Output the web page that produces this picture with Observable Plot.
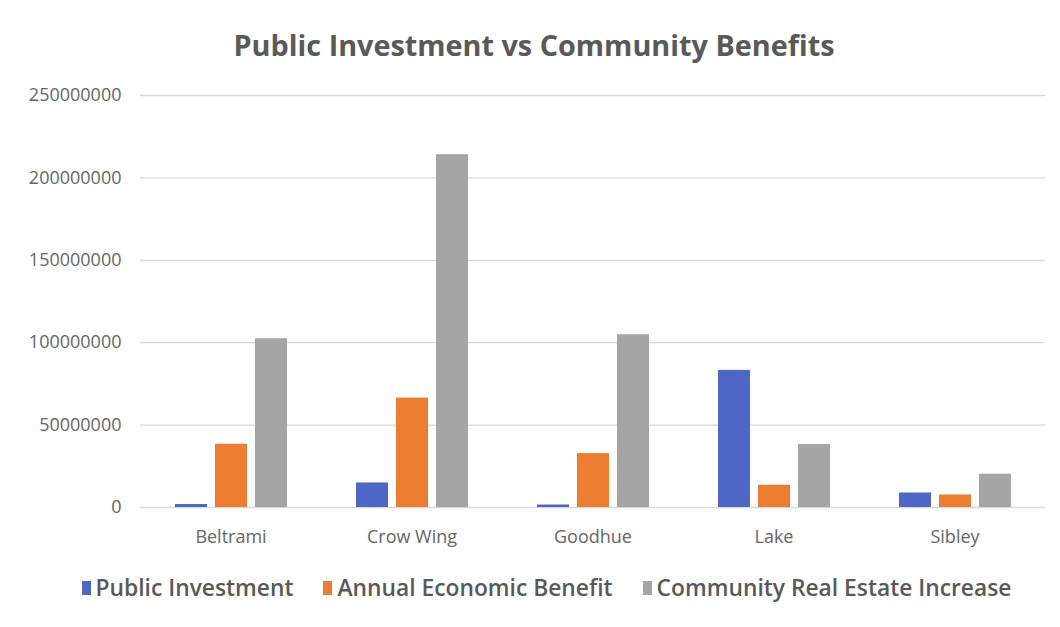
<!DOCTYPE html>
<html>
<head>
<meta charset="utf-8">
<script src="https://cdn.jsdelivr.net/npm/d3@7"></script>
<script src="https://cdn.jsdelivr.net/npm/@observablehq/plot@0.6"></script>
<style>
  html, body { margin: 0; padding: 0; background: #fff; }
  #wrap { width: 1060px; height: 627px; position: relative; overflow: hidden; font-family: "Open Sans", sans-serif; }
  #title { position: absolute; top: 0; left: 0; width: 1060px; height: 70px; display: flex; align-items: center; justify-content: center; font-weight: 700; font-size: 28.8px; color: #595959; padding-top: 18px; box-sizing: border-box; padding-left: 8px; }
  #chart { position: absolute; top: 70px; left: 0; }
  #legend { position: absolute; top: 572px; left: 0; width: 1060px; display: flex; justify-content: center; align-items: center; gap: 30px; font-size: 22.8px; font-weight: 600; color: #595959; padding-left: 33px; box-sizing: border-box; }
  .item { display: flex; align-items: center; gap: 5px; }
  .sw { width: 9px; height: 14px; display: inline-block; }
</style>
</head>
<body>
<div id="wrap">
  <div id="title">Public Investment vs Community Benefits</div>
  <div id="chart"></div>
  <div id="legend"></div>
</div>
<script>
const counties = ["Beltrami", "Crow Wing", "Goodhue", "Lake", "Sibley"];
const series = ["Public Investment", "Annual Economic Benefit", "Community Real Estate Increase"];
const publicInvestment = [1.8e6, 14.9e6, 1.5e6, 83.2e6, 8.8e6];
const annualBenefit = [38.4e6, 66.4e6, 32.7e6, 13.5e6, 7.6e6];
const realEstate = [102.4e6, 214.1e6, 104.8e6, 38.2e6, 20.2e6];
const yTicks = [0, 50000000, 100000000, 150000000, 200000000, 250000000];
const colors = ["#4E67C6", "#ED7D31", "#A5A5A5"];

const values = [publicInvestment, annualBenefit, realEstate];
const data = [];
counties.forEach((c, i) => {
  series.forEach((s, j) => data.push({county: c, series: s, value: values[j][i]}));
});

const chart = Plot.plot({
  width: 1060,
  height: 482,
  marginTop: 25,
  marginBottom: 45,
  marginLeft: 140,
  marginRight: 15,
  style: {fontFamily: "Open Sans, sans-serif", color: "#595959", background: "transparent"},
  fx: {domain: counties, padding: 0, label: null, axis: null},
  x: {domain: series, paddingInner: 0.2, paddingOuter: 0.86, axis: null},
  y: {domain: [0, 250000000], label: null, axis: null},
  color: {domain: series, range: colors},
  marks: [
    Plot.gridY(yTicks, {stroke: "#d9d9d9", strokeOpacity: 1, strokeWidth: 1.3}),
    Plot.barY(data, {fx: "county", x: "series", y: "value", fill: "series"}),
    Plot.axisY(yTicks, {tickSize: 0, tickPadding: 19, tickFormat: d => String(d), fontSize: 18, fill: "#666", label: null, style: {letterSpacing: "1px"}}),
    Plot.axisFx({anchor: "bottom", tickSize: 0, tickPadding: 23, fontSize: 18, fill: "#666", label: null, style: {letterSpacing: "1.2px"}})
  ]
});
document.getElementById("chart").appendChild(chart);

const legend = document.getElementById("legend");
series.forEach((s, j) => {
  const item = document.createElement("div");
  item.className = "item";
  const sw = document.createElement("span");
  sw.className = "sw";
  sw.style.background = colors[j];
  const t = document.createElement("span");
  t.textContent = s;
  item.appendChild(sw);
  item.appendChild(t);
  legend.appendChild(item);
});
</script>
</body>
</html>
